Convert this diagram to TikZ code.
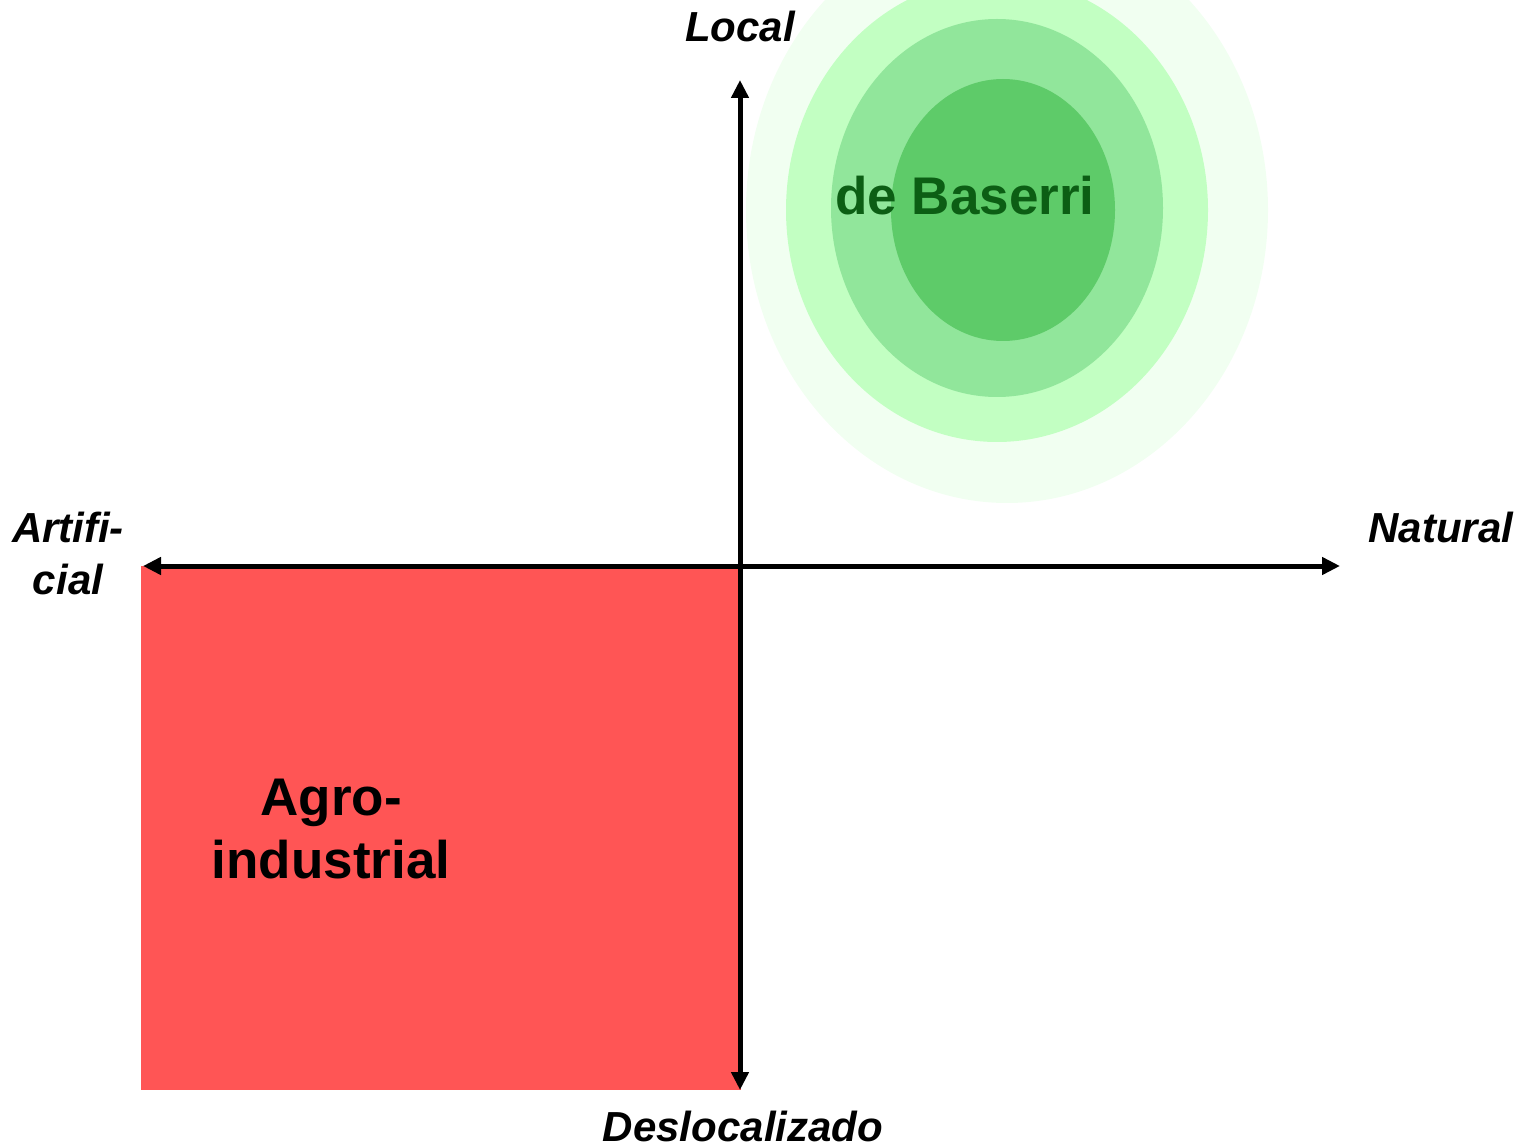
\documentclass[tikz,border=0pt]{standalone}
\usepackage{fontspec}
\setmainfont{Liberation Sans}
\usetikzlibrary{arrows.meta}

\definecolor{zonered}{HTML}{FF5555}
\definecolor{halo}{HTML}{F1FFF1}
\definecolor{ringa}{HTML}{C2FFC2}
\definecolor{ringb}{HTML}{91E69B}
\definecolor{ringc}{HTML}{5ECB69}
\definecolor{basgreen}{HTML}{0C5E14}

\begin{document}
\begin{tikzpicture}[x=1pt,y=-1pt,
    axis/.style={line width=5pt,{Triangle[length=18pt,width=17pt]}-{Triangle[length=18pt,width=17pt]}},
    axislabel/.style={font=\fontsize{42}{52}\selectfont\bfseries\itshape,inner sep=0pt,align=center},
    zonelabel/.style={font=\fontsize{53}{63}\selectfont\bfseries,inner sep=0pt,align=center}]
\useasboundingbox (0,0) rectangle (1524,1147);

\coordinate (o) at (740, 566);
\coordinate (w) at (143, 566);
\coordinate (e) at (1340, 566);
\coordinate (n) at (740, 80);
\coordinate (s) at (740, 1090);
\coordinate (r1) at (141, 566);
\coordinate (r2) at (741, 1090);
\coordinate (c0) at (1007, 210);
\coordinate (c1) at (997, 210);
\coordinate (c2) at (997, 208);
\coordinate (c3) at (1003, 210);

\newcommand{\ring}[4]{
    \fill[#2] (#1) ellipse [x radius=#3pt, y radius=#4pt];
}

\newcommand{\drawbaserri}{
    \ring{c0}{halo}{261}{293}
    \ring{c1}{ringa}{211}{232}
    \ring{c2}{ringb}{166}{189}
    \ring{c3}{ringc}{112}{131}
    \node[zonelabel,anchor=base,text=basgreen] (baserri) at (965, 215) {de Baserri};
}

\newcommand{\drawagro}{
    \fill[zonered] (r1) rectangle (r2);
    \node[zonelabel,anchor=base] (agro) at (331, 878) {Agro-\\industrial};
}

\newcommand{\drawaxes}{
    \draw[axis] (w)--(e);
    \draw[axis] (s)--(n);
    \node[axislabel,anchor=base] (local) at (740, 42) {Local};
    \node[axislabel,anchor=base] (desloc) at (743, 1141) {Deslocalizado};
    \node[axislabel,anchor=base] (natural) at (1441, 542) {Natural};
    \node[axislabel,anchor=base] (artif) at (68, 594) {Artifi-\\cial};
}

\drawbaserri
\drawagro
\drawaxes
\end{tikzpicture}
\end{document}
